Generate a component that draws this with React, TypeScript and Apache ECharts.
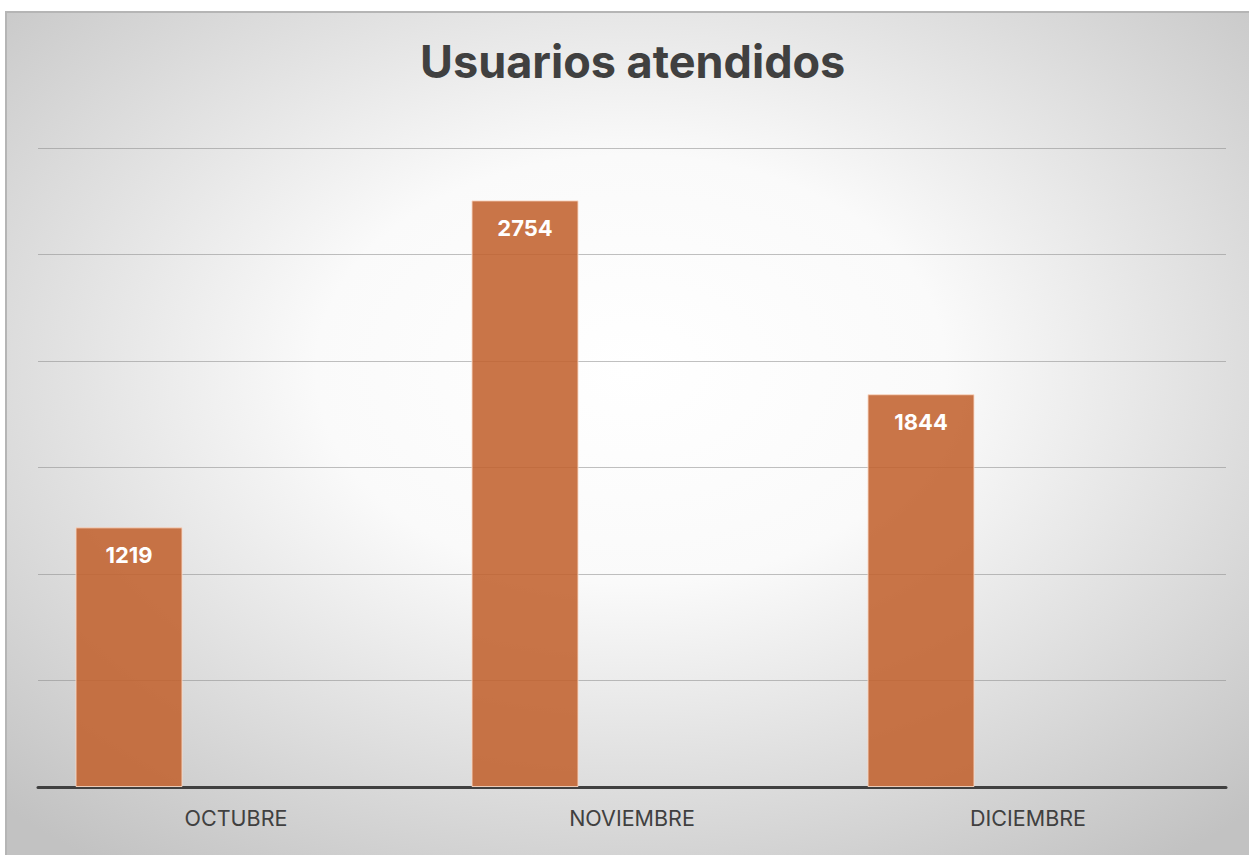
import React, { useEffect, useRef } from "react";
import * as echarts from "echarts";

const categories = ["OCTUBRE", "NOVIEMBRE", "DICIEMBRE"];
const usuarios = [1219, 2754, 1844];
const emptySeries: number[] = [];
const yMax = 3000;
const yInterval = 500;

export default function App() {
  const ref = useRef<HTMLDivElement>(null);
  useEffect(() => {
    document.body.style.margin = "0";
    const chart = echarts.init(ref.current!, undefined, { renderer: "svg" });
    chart.setOption({
      animation: false,
      graphic: [
        {
          type: "rect",
          z: -10,
          silent: true,
          shape: { x: 6, y: 12, width: 1250, height: 850 },
          style: {
            fill: {
              type: "radial",
              x: 0.5,
              y: 0.42,
              r: 0.72,
              colorStops: [
                { offset: 0, color: "#ffffff" },
                { offset: 0.35, color: "#fafafa" },
                { offset: 1, color: "#c2c2c2" },
              ],
            },
            stroke: "#b5b5b5",
            lineWidth: 2,
          },
        },
      ],
      title: {
        text: "Usuarios atendidos",
        left: 415,
        top: 34,
        textStyle: {
          fontFamily: "Inter",
          fontSize: 45,
          fontWeight: "bold",
          color: "#404040",
        },
      },
      grid: { left: 38, right: 23, top: 148, bottom: 68, containLabel: false },
      xAxis: {
        type: "category",
        data: categories,
        axisLine: { lineStyle: { color: "#404040", width: 3 } },
        axisTick: { show: false },
        axisLabel: {
          fontFamily: "Inter",
          fontSize: 21.5,
          color: "#404040",
          margin: 20,
        },
      },
      yAxis: {
        type: "value",
        min: 0,
        max: yMax,
        interval: yInterval,
        axisLabel: { show: false },
        axisLine: { show: false },
        axisTick: { show: false },
        splitLine: { lineStyle: { color: "rgba(140,140,140,0.55)", width: 1 } },
      },
      series: [
        {
          type: "bar",
          data: usuarios,
          barWidth: 107,
          barGap: "100%",
          itemStyle: {
            color: "rgba(193,98,47,0.88)",
            borderColor: "rgba(250,215,195,0.9)",
            borderWidth: 1,
          },
          label: {
            show: true,
            position: "insideTop",
            distance: 17,
            fontFamily: "Inter",
            fontSize: 22,
            fontWeight: "bold",
            color: "#ffffff",
          },
        },
        {
          type: "bar",
          data: emptySeries,
          barWidth: 107,
          barGap: "100%",
        },
      ],
    });
    return () => chart.dispose();
  }, []);
  return <div ref={ref} style={{ width: 1249, height: 855 }} />;
}
